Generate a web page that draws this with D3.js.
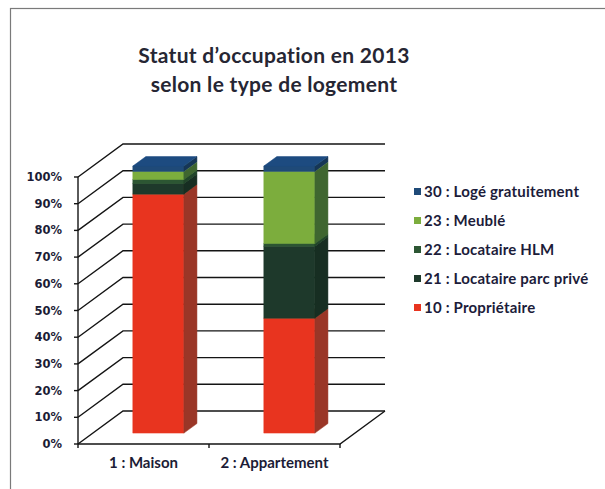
<!DOCTYPE html>
<html>
<head>
<meta charset="utf-8">
<script src="https://cdn.jsdelivr.net/npm/d3@7"></script>
<style>
	body { margin: 0; background: #fff; }
	svg { display: block; }
</style>
</head>
<body>
<svg id="chart" width="605" height="489"></svg>
<script>
// data (percent of dwellings)
const categories = ["1 : Maison", "2 : Appartement"];
const seriesNames = ["10 : Propriétaire", "21 : Locataire parc privé", "22 : Locataire HLM", "23 : Meublé", "30 : Logé gratuitement"];
const maison = [89.5, 4, 1.5, 3, 2];
const appartement = [43, 27, 1, 27, 2];
const yTicks = [0, 10, 20, 30, 40, 50, 60, 70, 80, 90, 100];
const titleLines = ["Statut d’occupation en 2013", "selon le type de logement"];

// face colours: front, side, top
const colors = {
	"10 : Propriétaire": ["#e8341f", "#9a3627", "#e4512f"],
	"21 : Locataire parc privé": ["#1e392b", "#172e22", "#2a4a37"],
	"22 : Locataire HLM": ["#2c5633", "#22452a", "#3b6c40"],
	"23 : Meublé": ["#7cad3d", "#3f6630", "#a9d062"],
	"30 : Logé gratuitement": ["#1f4a78", "#163656", "#1d4b80"],
};

const rows = categories.map((c, i) => {
	const vals = i === 0 ? maison : appartement;
	const row = { cat: c };
	seriesNames.forEach((s, j) => (row[s] = vals[j]));
	return row;
});
const stacked = d3.stack().keys(seriesNames)(rows);

const svg = d3.select("#chart");
const font = "Lato, 'Open Sans', sans-serif";

// depth projection of the 3D box
const DX = 45, DY = 33;
const T0 = 0.33, T1 = 0.62; // bar depth inside the floor

const x = d3.scaleBand().domain(categories).range([78, 340]).paddingInner(0.61).paddingOuter(0.305);
const y = d3.scaleLinear().domain([0, 100]).range([444, 177]);

function pt(px, py, t) {
	return [px + t * DX, py - t * DY];
}
function poly(points) {
	return d3.line()(points) + "Z";
}

// frame
svg.append("rect").attr("x", 10.5).attr("y", 8.5).attr("width", 620).attr("height", 500)
	.attr("fill", "none").attr("stroke", "#7a7a7a").attr("stroke-width", 1.2);

// title
svg.append("g").selectAll("text").data(titleLines).join("text")
	.attr("x", 274).attr("y", (d, i) => 63 + i * 29)
	.attr("text-anchor", "middle")
	.attr("font-family", font).attr("font-weight", "bold").attr("font-size", 21)
	.attr("letter-spacing", 0.3)
	.attr("fill", "#262633")
	.text(d => d);

const x0 = x.range()[0], x1 = x.range()[1];

// walls: side wall diagonals and back wall gridlines
const grid = svg.append("g").attr("stroke", "#141414").attr("stroke-width", 1.4).attr("fill", "none");
yTicks.forEach(v => {
	const a = pt(x0, y(v), 0), b = pt(x0, y(v), 1), c = pt(x1, y(v), 1);
	grid.append("path").attr("d", d3.line()([a, b, c]));
});

// floor outline
const floor = [pt(x0, y(0), 0), pt(x1, y(0), 0), pt(x1, y(0), 1)];
grid.append("path").attr("d", d3.line()(floor));

// y axis
const axis = svg.append("g").attr("stroke", "#141414").attr("stroke-width", 1.4);
axis.append("line").attr("x1", x0).attr("x2", x0).attr("y1", y(0)).attr("y2", y(100));
yTicks.forEach(v => {
	axis.append("line").attr("x1", x0 - 4).attr("x2", x0).attr("y1", y(v)).attr("y2", y(v));
});
// x axis ticks
[x0, (x0 + x1) / 2, x1].forEach(v => {
	axis.append("line").attr("x1", v).attr("x2", v).attr("y1", y(0)).attr("y2", y(0) + 4);
});

svg.append("g").selectAll("text").data(yTicks).join("text")
	.attr("x", 62).attr("y", d => y(d) + 4)
	.attr("text-anchor", "end")
	.attr("font-family", "'DejaVu Sans', sans-serif").attr("font-weight", "bold").attr("font-size", 11.5)
	.attr("fill", "#1c1c36")
	.text(d => d + "%");

svg.append("g").selectAll("text").data(categories).join("text")
	.attr("x", d => x(d) + x.bandwidth() / 2).attr("y", 468)
	.attr("text-anchor", "middle")
	.attr("font-family", font).attr("font-weight", "bold").attr("font-size", 15)
	.attr("fill", "#1c1c36")
	.text(d => d);

// bars, bottom segment first so upper ones cover lower tops
const bars = svg.append("g");
categories.forEach((cat, i) => {
	const bx0 = x(cat), bx1 = x(cat) + x.bandwidth();
	stacked.forEach((layer, j) => {
		const d = layer[i];
		const c = colors[layer.key];
		const yb = y(d[0]), yt = y(d[1]);
		// front face
		bars.append("path").attr("d", poly([pt(bx0, yb, T0), pt(bx1, yb, T0), pt(bx1, yt, T0), pt(bx0, yt, T0)]))
			.attr("fill", c[0]).attr("stroke", c[0]).attr("stroke-width", 0.5);
		// right side
		bars.append("path").attr("d", poly([pt(bx1, yb, T0), pt(bx1, yb, T1), pt(bx1, yt, T1), pt(bx1, yt, T0)]))
			.attr("fill", c[1]).attr("stroke", c[1]).attr("stroke-width", 0.5);
		// top
		bars.append("path").attr("d", poly([pt(bx0, yt, T0), pt(bx1, yt, T0), pt(bx1, yt, T1), pt(bx0, yt, T1)]))
			.attr("fill", c[2]).attr("stroke", c[2]).attr("stroke-width", 0.5);
	});
});

// legend, top series first
const legend = svg.append("g").attr("transform", "translate(414,192)");
const items = legend.selectAll("g").data(seriesNames.slice().reverse()).join("g")
	.attr("transform", (d, i) => `translate(0,${i * 29})`);
items.append("rect").attr("x", 0).attr("y", -4).attr("width", 7).attr("height", 7)
	.attr("fill", d => colors[d][0]);
items.append("text").attr("x", 10).attr("y", 5)
	.attr("font-family", font).attr("font-weight", "bold").attr("font-size", 15)
	.attr("letter-spacing", 0.2)
	.attr("fill", "#1c1c3a")
	.text(d => d);
</script>
</body>
</html>
